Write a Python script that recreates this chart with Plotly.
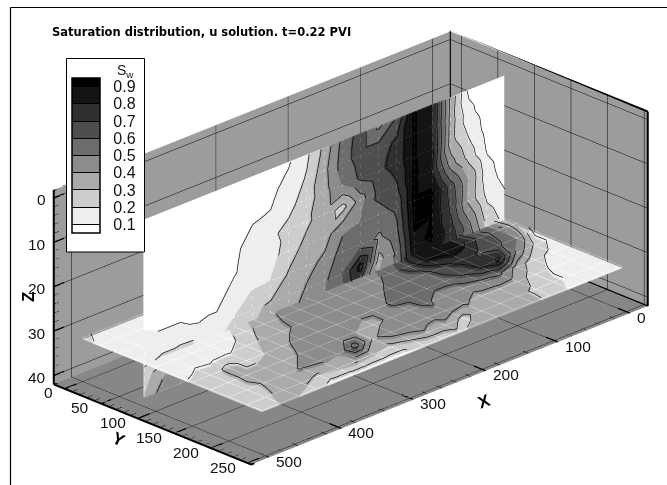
import numpy as np
import plotly.graph_objects as go

# ---------- data ----------
x_nodes = list(range(0, 501, 25))
z_rows = [0, 5, 10, 15, 20, 25, 30, 35, 40]
y_rows = [0, 25, 50, 75, 100, 125, 150, 175, 200, 225, 245]
slice_y = 83
slice_z = 32.5
# vertical slice: saturation by x column, rows = z_rows
col_000 = [.02, .02, .02, .03, .05, .095, .15, .2, .2]
col_025 = [.02, .04, .06, .09, .14, .17, .25, .3, .3]
col_050 = [.08, .13, .19, .26, .4, .38, .52, .6, .6]
col_075 = [.37, .35, .34, .45, .65, .68, .75, .8, .8]
col_100 = [.8, .8, .82, .79, .93, .9, .91, .85, .85]
col_125 = [.91, .91, .91, .92, .93, .91, .88, .8, .8]
col_150 = [.62, .72, .73, .69, .62, .58, .52, .5, .5]
col_175 = [.48, .65, .68, .63, .56, .48, .36, .4, .4]
col_200 = [.65, .65, .62, .45, .5, .55, .85, .6, .6]
col_225 = [.53, .55, .5, .26, .48, .55, .6, .55, .55]
col_250 = [.33, .37, .36, .35, .36, .42, .48, .5, .5]
col_275 = [.18, .21, .25, .28, .33, .37, .41, .45, .45]
col_300 = [.09, .13, .17, .23, .25, .31, .34, .38, .4]
col_325 = [.06, .08, .105, .18, .16, .2, .31, .35, .35]
col_350 = [.04, .03, .095, .13, .13, .19, .28, .3, .3]
col_375 = [.02, .02, .07, .085, .095, .13, .2, .25, .25]
col_400 = [.01, .01, .02, .03, .06, .085, .12, .2, .2]
col_425 = [.01, .01, .01, .02, .04, .07, .12, .2, .2]
col_450 = [.01, .01, .01, .02, .03, .09, .13, .4, .5]
col_475 = [.01, .01, .01, .02, .03, .09, .13, .35, .45]
col_500 = [.01, .01, .01, .02, .03, .1, .13, .25, .3]
vertical_cols = [col_000, col_025, col_050, col_075, col_100, col_125, col_150,
                 col_175, col_200, col_225, col_250, col_275, col_300, col_325,
                 col_350, col_375, col_400, col_425, col_450, col_475, col_500]
# horizontal slice: saturation by y row, columns = x_nodes
row_000 = [.1, .2, .3, .4, .5, .5, .4, .35, .3, .3, .3, .25, .25, .2, .2, .15, .14, .13, .13, .14, .25]
row_025 = [.15, .3, .4, .5, .6, .6, .5, .4, .35, .35, .35, .3, .3, .25, .2, .15, .14, .13, .13, .13, .17]
row_050 = [.2, .4, .5, .65, .75, .7, .55, .45, .4, .4, .4, .35, .35, .3, .25, .17, .14, .13, .13, .13, .14]
row_075 = [.25, .5, .6, .8, .85, .8, .6, .5, .45, .45, .45, .4, .4, .38, .3, .2, .15, .14, .13, .13, .13]
row_100 = [.3, .55, .65, .82, .85, .82, .65, .55, .45, .45, .5, .42, .41, .41, .35, .27, .17, .15, .14, .13, .13]
row_125 = [.15, .5, .62, .68, .75, .68, .58, .52, .53, .45, .42, .47, .45, .42, .38, .33, .24, .19, .18, .19, .17]
row_150 = [.15, .28, .48, .82, .72, .62, .55, .55, .53, .52, .43, .42, .48, .45, .43, .38, .3, .27, .33, .25, .21]
row_175 = [.15, .17, .23, .36, .52, .49, .45, .43, .52, .47, .43, .36, .4, .42, .43, .41, .36, .33, .33, .26, .22]
row_200 = [.15, .17, .18, .25, .35, .37, .36, .42, .47, .42, .5, .47, .38, .65, .4, .43, .41, .36, .31, .27, .24]
row_225 = [.15, .16, .18, .22, .28, .33, .36, .35, .27, .37, .38, .32, .27, .3, .33, .3, .28, .33, .33, .28, .24]
row_245 = [.15, .15, .17, .2, .27, .33, .36, .36, .33, .28, .22, .2, .17, .17, .17, .17, .17, .25, .3, .3, .25]
horizontal_rows = [row_000, row_025, row_050, row_075, row_100, row_125, row_150,
                   row_175, row_200, row_225, row_245]

levels = [.1, .2, .3, .4, .5, .6, .7, .8, .9]
band_colors = ['#ffffff', '#eeeeee', '#cdcdcd', '#aaaaaa', '#8c8c8c',
               '#6c6c6c', '#4e4e4e', '#303030', '#141414', '#000000']
x_ticks = [0, 100, 200, 300, 400, 500]
y_ticks = [0, 50, 100, 150, 200, 250]
z_ticks = [0, 10, 20, 30, 40]
x_minor = [v for v in range(0, 501, 20) if v % 100]
y_minor = [v for v in range(0, 251, 10) if v % 50]
z_minor = [v for v in range(0, 41, 2) if v % 10]
x_range = [-25, 525]
y_range = [-15, 255]
z_range = [42, -1.8]

title_text = 'Saturation distribution, u solution. t=0.22 PVI'
FONT = 'Liberation Sans'
cmin, cmax = .05, .95


def norm(v):
    return (v - cmin) / (cmax - cmin)


scale = []
edges = [cmin] + levels + [cmax]
for i, c in enumerate(band_colors):
    scale.append([norm(edges[i]), c])
    scale.append([norm(edges[i + 1]), c])


def cell_triangles(nrow, ncol):
    tris = []
    for r in range(nrow - 1):
        for c in range(ncol - 1):
            tris.append([(r, c), (r, c + 1), (r + 1, c + 1)])
            tris.append([(r, c), (r + 1, c + 1), (r + 1, c)])
    return tris


def mesh_indices(nrow, ncol):
    tris = cell_triangles(nrow, ncol)
    i = [t[0][0] * ncol + t[0][1] for t in tris]
    j = [t[1][0] * ncol + t[1][1] for t in tris]
    k = [t[2][0] * ncol + t[2][1] for t in tris]
    return i, j, k


def contour_segments(vals, a, b):
    """Marching triangles on vals[row, col]; a = col coords, b = row coords."""
    A, B = [], []
    vals = np.asarray(vals)
    tris = cell_triangles(len(b), len(a))
    for lv in levels:
        for t in tris:
            pts = []
            for n in range(3):
                p, q = t[n], t[(n + 1) % 3]
                vp, vq = vals[p], vals[q]
                if (vp - lv) * (vq - lv) < 0:
                    f = (lv - vp) / (vq - vp)
                    pts.append((a[p[1]] + f * (a[q[1]] - a[p[1]]),
                                b[p[0]] + f * (b[q[0]] - b[p[0]])))
            if len(pts) == 2:
                A += [pts[0][0], pts[1][0], None]
                B += [pts[0][1], pts[1][1], None]
    return A, B


def grid_lines(a, b):
    A, B = [], []
    for v in a:
        A += [v, v, None]
        B += [b[0], b[-1], None]
    for v in b:
        A += [a[0], a[-1], None]
        B += [v, v, None]
    return A, B


def const(arr, v):
    return [None if e is None else v for e in arr]


fig = go.Figure()
V = np.array(vertical_cols).T
H = np.array(horizontal_rows)
light = dict(ambient=1, diffuse=0, specular=0, roughness=1, fresnel=0)

X, Z = np.meshgrid(x_nodes, z_rows)
iv, jv, kv = mesh_indices(*V.shape)
fig.add_mesh3d(x=X.ravel(), y=np.full(X.size, slice_y), z=Z.ravel(), i=iv, j=jv, k=kv,
               intensity=V.ravel(), cmin=cmin, cmax=cmax,
               colorscale=scale, lighting=light, hoverinfo='skip', showscale=True,
               colorbar=dict(x=72 / 667, xref='paper', xanchor='left', y=1 - 78 / 485, yanchor='top',
                             lenmode='pixels', len=155, thicknessmode='pixels', thickness=28,
                             xpad=0, ypad=0, tickmode='array', tickvals=levels,
                             ticktext=['\u00a0\u00a0%.1f' % v for v in levels],
                             ticks='inside', ticklen=28, tickwidth=1, tickcolor='black',
                             outlinecolor='black', outlinewidth=1.5,
                             tickfont=dict(family=FONT, size=16, color='#111')))
X2, Y2 = np.meshgrid(x_nodes, y_rows)
ih, jh, kh = mesh_indices(*H.shape)
fig.add_mesh3d(x=X2.ravel(), y=Y2.ravel(), z=np.full(X2.size, slice_z), i=ih, j=jh, k=kh,
               intensity=H.ravel(), cmin=cmin, cmax=cmax,
               colorscale=scale, lighting=light, hoverinfo='skip', showscale=False)

# faint node grids on the slices
ga, gb = grid_lines(x_nodes, z_rows)
fig.add_scatter3d(x=ga, y=const(ga, slice_y + 1), z=gb, mode='lines', hoverinfo='skip', showlegend=False,
                  line=dict(color='rgba(60,60,60,.08)', width=1))
ga, gb = grid_lines(x_nodes, y_rows)
fig.add_scatter3d(x=ga, y=gb, z=const(ga, slice_z - .4), mode='lines', hoverinfo='skip', showlegend=False,
                  line=dict(color='rgba(60,60,60,.08)', width=1))
# contour lines
ca, cb = contour_segments(V, x_nodes, z_rows)
fig.add_scatter3d(x=ca, y=const(ca, slice_y + 1.5), z=cb, mode='lines', hoverinfo='skip', showlegend=False,
                  line=dict(color='black', width=1.3))
ca, cb = contour_segments(H, x_nodes, y_rows)
fig.add_scatter3d(x=ca, y=cb, z=const(ca, slice_z - .6), mode='lines', hoverinfo='skip', showlegend=False,
                  line=dict(color='black', width=1.3))

# frame edges of the box
xa, xb = x_range[1], x_range[0]
ya, yb = y_range[0], y_range[1]
ztop, zbot = z_range[1], z_range[0]
ex = [xa, xb, xb, None, xa, xa, None, xb, xb, None, xb, xb, None, xa, xa, xb, None, xa, xb]
ey = [ya, ya, yb, None, ya, ya, None, ya, ya, None, yb, yb, None, ya, yb, yb, None, ya, ya]
ez = [ztop, ztop, ztop, None, ztop, zbot, None, ztop, zbot, None, ztop, zbot, None, zbot, zbot, zbot, None, zbot, zbot]
fig.add_scatter3d(x=ex, y=ey, z=ez, mode='lines', hoverinfo='skip', showlegend=False,
                  line=dict(color='black', width=4))
ex2 = [xb, xb, None, xb, xa]
ey2 = [ya, yb, None, ya, ya]
ez2 = [zbot, zbot, None, zbot, zbot]
fig.add_scatter3d(x=ex2, y=ey2, z=ez2, mode='lines', hoverinfo='skip', showlegend=False,
                  line=dict(color='black', width=4))


# tick marks, pointing into the box
def ticks(vals, length, kind):
    A, B, C = [], [], []
    for v in vals:
        if kind == 'x':
            A += [v, v, None]; B += [yb, yb - length, None]; C += [zbot, zbot, None]
        elif kind == 'y':
            A += [xa, xa - length, None]; B += [v, v, None]; C += [zbot, zbot, None]
        else:
            A += [xa, xa - length, None]; B += [ya, ya, None]; C += [v, v, None]
    return A, B, C


for vals, ln, kind, w in [(x_ticks, 16, 'x', 3), (x_minor, 8, 'x', 1), (y_ticks, 16, 'y', 3),
                          (y_minor, 8, 'y', 1), (z_ticks, 14, 'z', 3), (z_minor, 7, 'z', 1)]:
    a, b, c = ticks(vals, ln, kind)
    fig.add_scatter3d(x=a, y=b, z=c, mode='lines', hoverinfo='skip', showlegend=False,
                      line=dict(color='black', width=w))

tick_font = dict(family=FONT, size=15.5, color='#111')
scene_notes = []
for v in x_ticks:
    scene_notes.append(dict(x=v, y=yb, z=zbot, text=str(v), showarrow=False, xanchor='left',
                            xshift=5, yshift=-4, font=tick_font))
for v in y_ticks:
    scene_notes.append(dict(x=xa, y=v, z=zbot, text=str(v), showarrow=False, xanchor='right',
                            xshift=-10, yshift=-4, font=tick_font))
for v in z_ticks:
    scene_notes.append(dict(x=xa, y=ya, z=v, text=str(v), showarrow=False, xanchor='right',
                            xshift=-6, yshift=-2, font=tick_font))


def axis(rng, tv, bg):
    return dict(range=rng, autorange=False, tickmode='array', tickvals=tv, showticklabels=False, title=dict(text=''),
                showbackground=True, backgroundcolor=bg, gridcolor='black', gridwidth=1, zeroline=False,
                showline=False, showspikes=False, ticks='')


eye_len = 3.0
cx, cy, cz = .0503, -.0503, .0245
fig.update_layout(
    width=667, height=485, autosize=False, margin=dict(l=0, r=0, t=0, b=0),
    paper_bgcolor='white', showlegend=False,
    scene=dict(
        domain=dict(x=[0, 1], y=[0, 1]),
        xaxis=axis(x_range, x_ticks, '#9c9c9c'),
        yaxis=axis(y_range, y_ticks, '#9c9c9c'),
        zaxis=axis(z_range, z_ticks, '#878787'),
        aspectmode='manual', aspectratio=dict(x=2.304, y=1.156, z=.876),
        camera=dict(projection=dict(type='orthographic'), up=dict(x=0, y=0, z=1),
                    center=dict(x=cx, y=cy, z=cz),
                    eye=dict(x=cx + .645 * eye_len, y=cy + .65 * eye_len, z=cz + .403 * eye_len)),
        annotations=scene_notes,
    ),
    shapes=[
        dict(type='line', xref='paper', yref='paper', x0=10.5 / 667, x1=10.5 / 667, y0=0, y1=1 - 7.5 / 485,
             line=dict(color='black', width=1.2), layer='above'),
        dict(type='line', xref='paper', yref='paper', x0=10.5 / 667, x1=1, y0=1 - 7.5 / 485, y1=1 - 7.5 / 485,
             line=dict(color='black', width=1.2), layer='above'),
        dict(type='rect', xref='paper', yref='paper', x0=66.5 / 667, x1=144.5 / 667, y0=1 - 252 / 485, y1=1 - 58.5 / 485,
             line=dict(color='black', width=1), fillcolor='white', layer='above'),
    ],
    annotations=[
        dict(text='<b>%s</b>' % title_text, x=50 / 667, y=1 - 32 / 485, xref='paper', yref='paper', xanchor='left',
             yanchor='middle', showarrow=False, font=dict(family='DejaVu Sans', size=11.5, color='black')),
        dict(text='S<sub>w</sub>', x=115 / 667, y=1 - 71 / 485, xref='paper', yref='paper', xanchor='left',
             yanchor='middle', showarrow=False, font=dict(family=FONT, size=14, color='#111')),
        dict(text='<b>X</b>', x=484 / 667, y=1 - 401 / 485, xref='paper', yref='paper', showarrow=False, textangle=-20,
             xanchor='center', yanchor='middle', font=dict(family=FONT, size=17, color='black')),
        dict(text='<b>Y</b>', x=119 / 667, y=1 - 439 / 485, xref='paper', yref='paper', showarrow=False, textangle=25,
             xanchor='center', yanchor='middle', font=dict(family=FONT, size=17, color='black')),
        dict(text='<b>Z</b>', x=28 / 667, y=1 - 297 / 485, xref='paper', yref='paper', showarrow=False, textangle=-90,
             xanchor='center', yanchor='middle', font=dict(family=FONT, size=17, color='black')),
    ],
)
fig.write_html('out.html', config=dict(displayModeBar=False), post_script="document.body.style.margin='0';")
